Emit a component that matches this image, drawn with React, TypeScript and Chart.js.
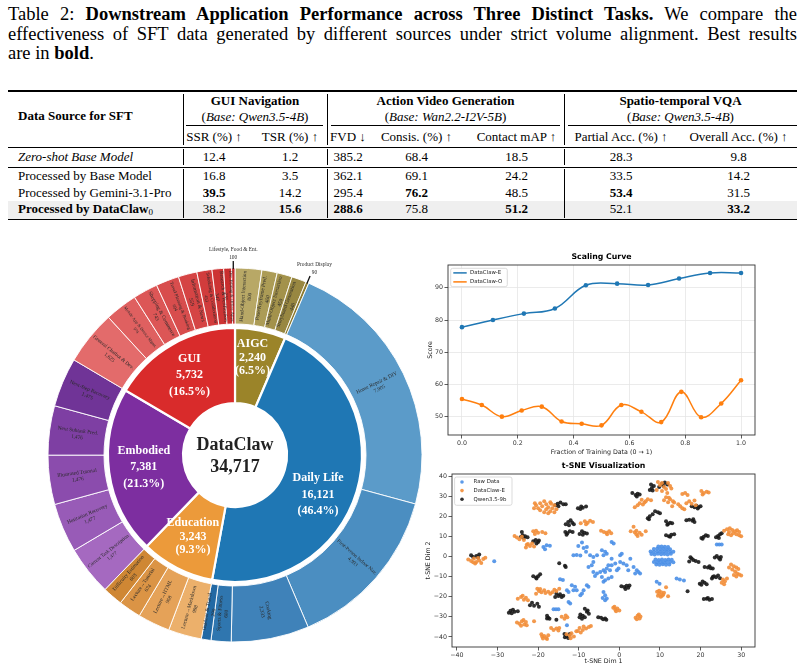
import React, { useEffect, useRef } from "react";
import { Chart, registerables } from "chart.js";

Chart.register(...registerables);

// ---------------- Table data ----------------
const TABLE_GROUPS = ["GUI Navigation", "Action Video Generation", "Spatio-temporal VQA"];
const TABLE_GROUP_BASES = ["Qwen3.5-4B", "Wan2.2-I2V-5B", "Qwen3.5-4B"];
const TABLE_METRICS = ["SSR (%) ↑", "TSR (%) ↑", "FVD ↓", "Consis. (%) ↑", "Contact mAP ↑", "Partial Acc. (%) ↑", "Overall Acc. (%) ↑"];
const TABLE_ROWS = ["Zero-shot Base Model", "Processed by Base Model", "Processed by Gemini-3.1-Pro", "Processed by DataClaw"];
const TABLE_VALUES = [
  ["12.4", "1.2", "385.2", "68.4", "18.5", "28.3", "9.8"],
  ["16.8", "3.5", "362.1", "69.1", "24.2", "33.5", "14.2"],
  ["39.5", "14.2", "295.4", "76.2", "48.5", "53.4", "31.5"],
  ["38.2", "15.6", "288.6", "75.8", "51.2", "52.1", "33.2"],
];
const TABLE_BEST = [[], [], [0, 3, 5], [1, 2, 4, 6]];

// ---------------- Sunburst data ----------------
const SUN_CATS = ["AIGC", "Daily Life", "Education", "Embodied", "GUI"];
const SUN_CAT_VALUES = [2240, 16121, 3243, 7381, 5732];
const SUN_CAT_COLORS = ["#9b8429", "#1f77b4", "#ec9a3a", "#7d2ea0", "#d92b2b"];
const SUN_SUB_LABELS = [
  "Hand-Object Interaction", "Pose/Keyframe Pred.", "Multi-Object Interaction", "Storyboard Generation", "Product Display",
  "Home Repair & DIY", "First-Person Indoor Nav.", "Cooking", "Sports & Fitness", "Outdoor & Travel",
  "Lecture→Markdown", "Lecture→HTML", "Lecture→Tutorial", "Difficulty Estimation",
  "Current Task Description", "Hesitation Recovery", "Illustrated Tutorial", "Next Subtask Pred.", "Next-Step Recovery",
  "General Chatbot & Dev.", "Mobile App & Device Mgmt.", "Shopping & Commerce", "Travel Planning & Booking",
  "Information & News", "Scheduling & Collaboration", "Research & Verification", "Doc Editing & Office Apps", "Lifestyle, Food & Ent.",
];
const SUN_SUB_VALUES = [
  800, 460, 450, 440, 90,
  7905, 4993, 2333, 600, 290,
  998, 968, 674, 603,
  1477, 1477, 1476, 1476, 1475,
  1625, 974, 743, 694, 559, 453, 347, 237, 100,
];
const SUN_SUB_COLORS = [
  "#b8a866", "#ac9c56", "#a3924b", "#988741", "#8b7a30",
  "#5b9bc9", "#4b8ec1", "#3f82b9", "#2f76af", "#2269a4",
  "#ecb06b", "#e5a258", "#db9445", "#cf8734",
  "#a569c0", "#985bb7", "#8b4cad", "#7e3fa3", "#703497",
  "#e36b6b", "#df6060", "#dc5656", "#d84d4d", "#d54444", "#d13c3c", "#cd3434", "#c92e2e", "#c42828",
];

// ---------------- Scaling curve data ----------------
const SCALE_X_E = [0, 0.111, 0.222, 0.333, 0.444, 0.556, 0.667, 0.778, 0.889, 1.0];
const SCALE_E = [77.8, 80.0, 82.0, 83.6, 90.8, 91.3, 90.9, 92.9, 94.6, 94.6];
const SCALE_X_O = [0, 0.071, 0.143, 0.214, 0.286, 0.357, 0.429, 0.5, 0.571, 0.643, 0.714, 0.786, 0.857, 0.929, 1.0];
const SCALE_O = [55.5, 53.6, 50.0, 51.9, 53.1, 48.5, 47.8, 47.3, 53.6, 51.5, 48.3, 57.7, 49.8, 54.1, 61.3];
const SCALE_X_TICKS = [0, 0.2, 0.4, 0.6, 0.8, 1.0];
const SCALE_Y_TICKS = [50, 60, 70, 80, 90];

// ---------------- t-SNE data ----------------
const TSNE_RAW = [
  [9.6, 4.9], [10.4, 5.0], [11.2, 4.8], [12.0, 4.7],
  [8.5, 3.7], [9.3, 3.8], [10.1, 3.6], [10.9, 3.7], [11.7, 3.5], [12.5, 3.6],
  [7.7, 2.5], [8.5, 2.3], [9.3, 2.5], [10.1, 2.4], [10.9, 2.3], [11.7, 2.5], [12.5, 2.3], [13.3, 2.4],
  [7.9, 1.2], [8.7, 1.0], [9.5, 1.3], [10.3, 1.1], [11.1, 1.2], [11.9, 1.0], [12.7, 1.3],
  [8.9, -1.5], [9.7, -1.7], [10.5, -1.5], [11.3, -1.7], [12.1, -1.5], [12.9, -1.6],
  [8.5, -2.8], [9.3, -2.9], [10.1, -2.7], [10.9, -2.9], [11.7, -2.8], [12.5, -2.7], [13.3, -2.9],
  [9.1, -4.0], [9.9, -4.1], [10.7, -3.9], [11.5, -4.1], [12.3, -4.0],
  [-18.7, 4.7], [-17.9, 5.6], [-17.1, 5.3], [-18.3, 3.6],
  [-10.1, 5.2], [-9.2, 6.9], [-8.8, 4.2], [-8.0, 4.7], [-8.2, 2.3],
  [-11.3, 0.6], [-10.5, 0.7], [-9.6, 0.5], [-7.2, 0.6], [-6.4, -0.2],
  [-7.6, -5.2], [-6.8, -4.4], [-6.4, -2.7], [-5.5, 0.6],
  [-4.3, 3.1], [-3.5, 2.3], [-3.9, 0.6], [-3.1, 1.4], [-1.9, 7.2], [-1.4, 6.4],
  [0.6, 1.4], [0.2, 0.6], [-1.9, -1.1], [-2.7, -4.4], [-1.9, -4.4], [-1.0, -3.5], [0.2, -2.7],
  [-6.4, -7.7], [-6.0, -9.7], [-5.5, -8.5], [-4.7, -7.7], [-3.9, -6.9], [-3.5, -7.7], [-3.1, -6.0], [-2.3, -6.9],
  [-4.3, -10.2], [-3.9, -12.6], [-3.5, -11.8], [-2.7, -11.0], [-1.9, -10.2],
  [-0.6, -6.9], [-0.2, -6.0], [1.0, -3.5], [1.8, -4.4], [2.2, -6.9], [2.7, -1.1],
  [3.5, -5.2], [4.3, -6.9], [4.7, -7.7], [5.1, -8.5], [3.9, -8.5],
  [-3.9, -17.6], [-3.5, -19.3], [-3.1, -20.9], [-4.1, -20.6], [-3.5, -21.8],
  [-8.0, -14.3], [-7.6, -15.1], [-8.8, -16.8], [-9.2, -18.4], [-9.6, -19.3],
  [-11.7, -14.3], [-10.9, -15.1], [-11.3, -16.8], [-10.5, -16.8], [-12.9, -16.8], [-12.5, -17.6],
  [-12.5, -22.6], [-12.1, -23.4], [-14.6, -11.3], [-13.9, -11.7],
  [-16.2, -26.2], [-15.6, -26.2], [-15.0, -26.2], [-12.9, -34.2], [-30.8, -2.4],
  [24.0, 5.9], [24.6, 5.9], [25.2, 5.9], [9.2, -12.6], [9.9, -13.5], [14.1, -11.0], [14.9, -11.5], [15.9, -12.0],
];
const TSNE_E = [
  [-37.2, -1.5], [-36.5, -2.2], [-35.8, -1.0], [-35.2, -2.8], [-34.5, -2.0], [-34.0, -3.3], [-33.5, -1.2], [-33.0, -0.6], [-36.0, -2.9], [-34.8, -0.8], [-35.5, -3.5],
  [-21.0, 24.0], [-20.5, 25.5], [-20.0, 24.0], [-19.5, 26.5], [-19.0, 25.0], [-18.5, 27.5], [-18.0, 26.0], [-18.0, 23.5], [-17.5, 24.5], [-17.0, 27.0],
  [-17.0, 22.5], [-16.5, 24.0], [-16.0, 25.5], [-16.0, 22.0], [-15.5, 23.5], [-19.5, 23.0], [-18.5, 22.0], [-17.5, 21.5], [-16.8, 26.2], [-20.8, 26.5],
  [-25.8, 10.2], [-25.2, 9.4], [-24.6, 8.6], [-24.0, 9.8], [-23.5, 8.2], [-22.5, 6.2], [-22.0, 5.2], [-21.5, 6.5], [-23.0, 4.5], [-22.8, 5.8], [-21.0, 5.0],
  [-21.2, 12.5], [-20.5, 12.8], [-20.0, 11.8], [-19.0, 12.2], [-18.2, 11.5], [-20.8, 11.2],
  [-9.5, 16.5], [-8.5, 17.5], [-7.8, 16.8], [-7.2, 17.8], [-6.5, 17.2], [-8.2, 16.0],
  [-4.5, 12.8], [-3.8, 12.2], [-3.2, 11.8], [-2.5, 12.5], [-2.0, 11.5], [-3.0, 11.0],
  [2.8, 12.5], [3.5, 14.8], [3.8, 12.0], [4.2, 11.0], [4.5, 10.2], [5.0, 11.8], [5.5, 10.8], [6.5, 12.5], [4.2, 12.8],
  [9.5, 37.0], [10.5, 36.5], [12.0, 36.5], [12.5, 35.0], [10.0, 35.5], [11.0, 34.5], [11.5, 33.5], [12.8, 33.8], [10.5, 32.5], [11.8, 31.5], [9.2, 33.0],
  [7.0, 28.5], [7.8, 28.0], [6.5, 27.5], [5.5, 28.2], [5.0, 26.5], [4.5, 25.5], [3.8, 24.5], [5.8, 25.8], [6.2, 26.8],
  [11.5, 29.5], [12.5, 28.5], [13.2, 27.5], [12.0, 27.0], [11.0, 28.0], [12.2, 29.2], [13.0, 25.0], [13.5, 26.8],
  [15.5, 31.0], [16.2, 31.5], [16.8, 30.5], [14.5, 26.0], [15.0, 25.0], [15.5, 24.0], [16.0, 23.5], [16.5, 26.5], [17.2, 27.5], [17.8, 26.2], [18.5, 27.8], [18.8, 25.5],
  [20.2, 32.5], [20.8, 31.5], [21.5, 32.2], [22.0, 31.8], [20.5, 30.8],
  [25.8, 12.8], [26.5, 13.5], [27.2, 14.0], [27.8, 13.2], [28.5, 12.5], [29.0, 13.0], [29.5, 12.2], [27.0, 12.2], [28.0, 11.5], [28.8, 11.0], [29.5, 10.5], [30.0, 10.0], [26.8, 11.0], [27.5, 10.5],
  [27.5, -4.0], [28.2, -4.8], [28.8, -5.5], [29.3, -6.2], [27.0, -5.5], [27.8, -6.5], [28.5, -7.5], [29.0, -8.5], [28.2, -9.2], [29.5, -9.0], [30.0, -9.5], [28.8, -10.0],
  [25.5, -11.5], [26.0, -12.3], [25.2, -13.0], [26.5, -11.0], [25.8, -13.8],
  [9.3, -17.5], [9.8, -18.5], [10.3, -17.8], [10.8, -19.0], [9.5, -19.5], [10.2, -20.0], [11.0, -18.0], [12.0, -19.8], [11.5, -15.3], [9.8, -17.0], [10.5, -19.5],
  [-20.2, -16.0], [-19.8, -17.2], [-19.2, -17.8], [-18.5, -16.8], [-18.2, -18.2], [-17.5, -17.5], [-17.0, -18.5], [-16.5, -17.8], [-16.0, -16.5], [-15.5, -17.2], [-20.5, -18.5], [-19.5, -16.2], [-14.8, -16.0],
  [-25.0, -21.0], [-24.2, -20.2], [-23.5, -21.5], [-23.0, -20.5], [-22.5, -21.8], [-23.8, -19.5],
  [-25.2, -32.8], [-24.6, -33.5], [-24.0, -32.2], [-23.4, -33.8], [-23.0, -32.6], [-24.2, -34.4], [-23.6, -31.6], [-22.8, -34.2], [-21.0, -32.2],
  [-19.2, -38.6], [-18.5, -39.5], [-18.0, -40.5], [-17.5, -39.2], [-18.8, -40.8], [-17.8, -41.0], [-19.0, -39.8],
  [-16.8, -35.5], [-16.2, -36.5], [-15.5, -35.8], [-15.0, -36.8], [-14.8, -35.5],
  [-14.2, -30.0], [-13.5, -31.0], [-12.8, -30.2], [-13.2, -29.4],
  [-13.0, -38.6], [-12.2, -39.4], [-11.8, -38.2], [-11.2, -39.8], [-12.0, -40.6], [-10.6, -37.2],
  [-10.2, -37.0], [-9.5, -37.8], [-9.0, -36.5], [-8.2, -35.8], [-7.5, -35.0], [-7.0, -34.5], [-8.8, -34.8], [-9.8, -35.5],
  [-1.5, -25.5], [-1.0, -26.5], [-0.5, -25.8], [0.0, -26.8], [-0.8, -27.2], [-1.2, -25.0],
  [4.0, -30.5], [4.5, -29.5], [5.0, -30.8], [4.3, -31.2], [4.8, -28.8], [5.2, -29.8],
];
const TSNE_Q = [
  [-36.5, 0.6], [-36.0, -0.2], [-35.2, 0.2], [-34.5, 1.0], [-34.8, -0.5],
  [-24.0, 12.2], [-23.8, 10.6], [-23.2, 10.0], [-22.6, 9.6], [-24.2, 9.8], [-23.5, 9.2],
  [-21.2, 7.6], [-20.6, 8.2], [-20.0, 7.2], [-20.4, 6.4], [-19.8, 8.0],
  [-15.8, 25.5], [-15.2, 26.2], [-14.5, 26.8], [-13.8, 26.0], [-13.2, 26.0], [-15.0, 25.0],
  [-10.2, 24.0], [-9.6, 23.6], [-9.0, 24.2], [-8.2, 24.8], [-9.4, 24.8],
  [-13.2, 16.0], [-12.6, 17.2], [-12.0, 18.0], [-11.6, 16.8], [-11.2, 16.0], [-12.4, 15.5],
  [-13.3, 12.2], [-12.8, 11.5], [-12.2, 12.5], [-11.5, 12.2], [-13.0, 10.8],
  [-9.8, 11.2], [-9.2, 12.5], [-8.6, 11.8], [-8.0, 11.4], [-9.0, 10.8],
  [-14.8, -3.4], [-13.4, -4.6], [-13.2, -5.2],
  [-21.2, -9.8], [-20.5, -10.5], [-20.0, -9.8], [-19.5, -8.8], [-20.4, -11.0],
  [-15.5, -18.5], [-15.0, -19.6], [-14.2, -20.2], [-14.6, -18.8], [-13.8, -19.5], [-15.8, -20.2],
  [-22.0, -24.2], [-21.5, -23.0], [-21.0, -24.5], [-20.2, -23.5], [-19.8, -25.0],
  [-27.2, -28.0], [-26.8, -27.0], [-26.2, -26.5], [-25.8, -27.5], [-25.0, -27.2], [-26.5, -28.2],
  [-17.8, -29.5], [-17.5, -30.5], [-17.2, -31.0], [-17.8, -30.8], [-15.5, -31.5],
  [-9.6, -28.8], [-9.0, -29.5], [-8.5, -30.2], [-9.2, -31.0], [-8.0, -27.5], [-7.5, -28.5], [-8.5, -26.0], [-7.8, -26.8], [-9.8, -30.2],
  [-5.2, -30.2], [-4.5, -30.5], [-4.0, -31.2], [-3.5, -30.8], [-3.2, -31.5],
  [-13.5, -38.5], [-13.0, -39.5], [-12.6, -40.5], [-12.2, -38.5], [-13.4, -40.2],
  [0.5, -14.8], [1.2, -15.2], [1.8, -14.6], [2.2, -15.5], [1.5, -16.2], [2.5, -14.4],
  [3.2, 31.5], [4.0, 30.5], [4.5, 31.2], [5.0, 30.8], [4.3, 29.8],
  [7.5, 33.0], [8.0, 34.0], [8.5, 35.0], [7.8, 35.8], [8.2, 32.8],
  [10.5, 36.2], [11.2, 36.8], [11.8, 35.8], [10.8, 35.2], [9.8, 34.5],
  [7.0, 19.0], [7.5, 20.0], [8.2, 21.0], [8.8, 22.5], [9.5, 22.0], [10.0, 21.5], [7.3, 18.5],
  [11.5, 17.5], [12.0, 16.2], [12.5, 16.8], [13.0, 16.5], [11.8, 15.8],
  [11.5, 10.5], [12.2, 10.0], [12.8, 10.8], [13.5, 11.0], [12.5, 9.8],
  [16.5, 18.0], [17.2, 18.3], [18.0, 17.8], [18.5, 17.2], [18.2, 18.5],
  [17.8, 25.0], [18.5, 24.5], [19.0, 25.2], [19.5, 24.5], [20.0, 25.0], [19.3, 23.8],
  [20.2, 9.2], [20.8, 9.8], [21.3, 10.5], [21.8, 10.2], [20.5, 8.8],
  [23.8, 9.5], [24.3, 10.2], [24.8, 11.0], [25.2, 11.5], [24.5, 9.2],
  [17.2, -2.5], [17.8, -1.0], [18.2, -1.8], [18.8, -2.2], [19.5, -2.8], [17.5, -0.4],
  [23.5, -0.5], [24.0, 0.2], [24.5, -0.8], [25.0, -0.3], [24.8, -1.5],
  [21.0, -5.2], [21.8, -5.5], [22.5, -5.8], [22.2, -4.8], [23.0, -6.0],
  [22.8, -11.0], [23.3, -9.8], [23.8, -10.3], [24.3, -9.5], [24.8, -10.8], [23.0, -10.2],
  [19.8, -13.5], [20.5, -12.5], [21.0, -13.0], [21.5, -13.8], [20.2, -14.0],
  [20.8, -21.2], [21.5, -21.0], [22.2, -21.5], [22.8, -21.2], [21.8, -20.6],
  [16.8, -17.3],
];
const TSNE_X_TICKS = [-40, -30, -20, -10, 0, 10, 20, 30];
const TSNE_Y_TICKS = [-40, -30, -20, -10, 0, 10, 20, 30, 40];

// ---------------- helpers ----------------
const SERIF = "'Liberation Serif', 'Times New Roman', Times, serif";
const SANS = "'DejaVu Sans', sans-serif";
const fmt = (v: number) => v.toLocaleString("en-US");

const sunLabelPlugin = {
  id: "sunLabels",
  afterDatasetsDraw(chart: any) {
    const ctx = chart.ctx as CanvasRenderingContext2D;
    const outer = chart.getDatasetMeta(0).data;
    const inner = chart.getDatasetMeta(2).data;
    const total = SUN_CAT_VALUES.reduce((a, b) => a + b, 0);
    ctx.save();
    ctx.textAlign = "center";
    ctx.textBaseline = "middle";
    outer.forEach((el: any, i: number) => {
      const p = el.getProps(["x", "y", "startAngle", "endAngle", "innerRadius", "outerRadius"], true);
      const mid = (p.startAngle + p.endAngle) / 2;
      const rm = (p.innerRadius + p.outerRadius) / 2;
      const arcLen = (p.endAngle - p.startAngle) * rm;
      const c = Math.cos(mid), s = Math.sin(mid);
      const name = SUN_SUB_LABELS[i];
      const val = fmt(SUN_SUB_VALUES[i]);
      ctx.fillStyle = "#2a2a2a";
      if (arcLen < 4.5) {
        const r0 = p.outerRadius - 1, r1 = p.outerRadius + 7;
        ctx.strokeStyle = "#111";
        ctx.lineWidth = 1.3;
        ctx.beginPath();
        ctx.moveTo(p.x + c * r0, p.y + s * r0);
        ctx.lineTo(p.x + c * r1, p.y + s * r1);
        ctx.stroke();
        const ax = p.x + c * (p.outerRadius + 10.5) + 8 * Math.max(c, 0);
        const ay = p.y + s * (p.outerRadius + 10.5);
        ctx.font = `5.4px ${SERIF}`;
        ctx.fillText(val, ax, ay);
        ctx.fillText(name, ax, ay - 8);
      } else {
        const rot = c >= 0 ? mid : mid + Math.PI;
        ctx.save();
        ctx.translate(p.x + c * rm, p.y + s * rm);
        ctx.rotate(rot);
        let fs = 5.3;
        ctx.font = `${fs}px ${SERIF}`;
        const w = ctx.measureText(name).width;
        const maxW = p.outerRadius - p.innerRadius - 5;
        if (w > maxW) {
          fs = (fs * maxW) / w;
          ctx.font = `${fs}px ${SERIF}`;
        }
        ctx.fillText(name, 0, -fs * 0.62);
        ctx.fillText(val, 0, fs * 0.62);
        ctx.restore();
      }
    });
    const nudge: Record<string, [number, number]> = { "Daily Life": [-5, 13], AIGC: [-1, -7] };
    inner.forEach((el: any, i: number) => {
      const p = el.getProps(["x", "y", "startAngle", "endAngle"], true);
      const mid = (p.startAngle + p.endAngle) / 2;
      const r = 92;
      const nd = nudge[SUN_CATS[i]] || [0, 0];
      const x = p.x + Math.cos(mid) * r + nd[0];
      const y = p.y + Math.sin(mid) * r + nd[1];
      const v = SUN_CAT_VALUES[i];
      const lh = v > 5000 ? 16.5 : 13.5;
      ctx.font = `bold 12px ${SERIF}`;
      ctx.fillStyle = "#ffffff";
      ctx.fillText(SUN_CATS[i], x, y - lh);
      ctx.fillText(fmt(v), x, y);
      ctx.fillText(`(${((v / total) * 100).toFixed(1)}%)`, x, y + lh);
    });
    const p0 = inner[0].getProps(["x", "y"], true);
    ctx.fillStyle = "#222";
    ctx.font = `bold 18px ${SERIF}`;
    ctx.fillText("DataClaw", p0.x, p0.y - 10);
    ctx.fillText(fmt(total), p0.x, p0.y + 12);
    ctx.restore();
  },
};

const plotTitlePlugin = {
  id: "plotTitle",
  afterDraw(chart: any, _a: any, opts: any) {
    if (!opts || !opts.text) return;
    const { ctx, chartArea } = chart;
    ctx.save();
    ctx.font = `bold 7.8px ${SANS}`;
    ctx.fillStyle = "#000";
    ctx.textAlign = "center";
    ctx.textBaseline = "middle";
    ctx.fillText(opts.text, (chartArea.left + chartArea.right) / 2, chartArea.top - 7.7);
    ctx.restore();
  },
};

const framePlugin = {
  id: "frame",
  afterDraw(chart: any) {
    const { ctx, chartArea } = chart;
    ctx.save();
    ctx.strokeStyle = "#333";
    ctx.lineWidth = 0.9;
    ctx.strokeRect(chartArea.left, chartArea.top, chartArea.right - chartArea.left, chartArea.bottom - chartArea.top);
    ctx.restore();
  },
};

const boxLegendPlugin = {
  id: "boxLegend",
  afterDraw(chart: any, _a: any, opts: any) {
    if (!opts || !opts.w) return;
    const { ctx, chartArea } = chart;
    const x = chartArea.left + opts.dx, y = chartArea.top + opts.dy;
    const w = opts.w, h = opts.h, r = 2;
    ctx.save();
    ctx.beginPath();
    ctx.moveTo(x + r, y);
    ctx.arcTo(x + w, y, x + w, y + h, r);
    ctx.arcTo(x + w, y + h, x, y + h, r);
    ctx.arcTo(x, y + h, x, y, r);
    ctx.arcTo(x, y, x + w, y, r);
    ctx.closePath();
    ctx.fillStyle = "rgba(255,255,255,0.85)";
    ctx.fill();
    ctx.strokeStyle = "#d2d2d2";
    ctx.lineWidth = 0.8;
    ctx.stroke();
    ctx.font = `5.4px ${SANS}`;
    ctx.textBaseline = "middle";
    ctx.textAlign = "left";
    chart.data.datasets.forEach((ds: any, i: number) => {
      const cy = y + opts.first + i * opts.step;
      if (opts.kind === "line") {
        ctx.strokeStyle = ds.borderColor;
        ctx.lineWidth = 1.5;
        ctx.beginPath();
        ctx.moveTo(x + 2.6, cy);
        ctx.lineTo(x + 16, cy);
        ctx.stroke();
      } else {
        ctx.fillStyle = ds.backgroundColor;
        ctx.beginPath();
        ctx.arc(x + 7.4, cy, 1.8, 0, Math.PI * 2);
        ctx.fill();
      }
      ctx.fillStyle = "#222";
      ctx.fillText(ds.label, x + opts.textX, cy);
    });
    ctx.restore();
  },
};

const tickFont = { family: SANS, size: 6.3 };

function makeSunburst() {
  return {
    type: "doughnut",
    data: {
      labels: SUN_SUB_LABELS,
      datasets: [
        { data: SUN_SUB_VALUES, backgroundColor: SUN_SUB_COLORS, borderColor: "#ffffff", borderWidth: 0.9, hoverBorderWidth: 0.9, weight: 56 },
        { data: [1], backgroundColor: "rgba(0,0,0,0)", borderWidth: 0, hoverBorderWidth: 0, weight: 4 },
        { data: SUN_CAT_VALUES, backgroundColor: SUN_CAT_COLORS, borderColor: "#ffffff", borderWidth: 2.2, hoverBorderWidth: 2.2, weight: 75 },
      ],
    },
    options: {
      responsive: false,
      animation: false,
      events: [],
      radius: 187,
      cutout: "27.8%",
      layout: { padding: 0 },
      plugins: { legend: { display: false }, tooltip: { enabled: false } },
    },
    plugins: [sunLabelPlugin],
  };
}

function axis(min: number, max: number, ticks: number[], cb: (v: number) => string, size: number, isX: boolean, title: string, titlePad: any, grid: boolean) {
  return {
    type: "linear",
    min,
    max,
    afterBuildTicks: (s: any) => {
      s.ticks = ticks.map((v) => ({ value: v }));
    },
    afterFit: (s: any) => {
      if (isX) s.height = size;
      else s.width = size;
    },
    ticks: { callback: (v: any) => cb(Number(v)), font: tickFont, color: "#333", padding: 1.5, maxRotation: 0, autoSkip: false },
    grid: { drawOnChartArea: grid, color: "#e6e6e6", lineWidth: 0.8, tickColor: "#333", tickLength: 3.5, tickWidth: 0.8 },
    border: { display: false },
    title: { display: true, text: title, font: tickFont, color: "#222", padding: titlePad },
  };
}

function makeScaling() {
  return {
    type: "line",
    data: {
      datasets: [
        {
          label: "DataClaw-E",
          data: SCALE_X_E.map((x, i) => ({ x, y: SCALE_E[i] })),
          borderColor: "#1f77b4",
          backgroundColor: "#1f77b4",
          pointRadius: 2.3,
          pointBorderWidth: 0,
          borderWidth: 1.5,
          tension: 0.4,
        },
        {
          label: "DataClaw-O",
          data: SCALE_X_O.map((x, i) => ({ x, y: SCALE_O[i] })),
          borderColor: "#ff7f0e",
          backgroundColor: "#ff7f0e",
          pointRadius: 2.3,
          pointBorderWidth: 0,
          borderWidth: 1.5,
          tension: 0.4,
        },
      ],
    },
    options: {
      responsive: false,
      animation: false,
      events: [],
      layout: { padding: { left: 0, right: 50, top: 17, bottom: 0 } },
      scales: {
        x: axis(-0.05, 1.05, SCALE_X_TICKS, (v) => v.toFixed(1), 25, true, "Fraction of Training Data (0 → 1)", { top: 0, bottom: 4.2 }, true),
        y: axis(44.3, 97.1, SCALE_Y_TICKS, (v) => String(v), 28, false, "Score", { top: 7, bottom: 0 }, true),
      },
      plugins: {
        legend: { display: false },
        tooltip: { enabled: false },
        plotTitle: { text: "Scaling Curve" },
        boxLegend: { dx: 2.7, dy: 3.3, w: 56.6, h: 18.4, first: 4.6, step: 9, textX: 19.3, kind: "line" },
      },
    },
    plugins: [plotTitlePlugin, boxLegendPlugin, framePlugin],
  };
}

function makeTsne() {
  const mk = (label: string, pts: number[][], color: string) => ({
    label,
    data: pts.map(([x, y]) => ({ x, y })),
    backgroundColor: color,
    borderColor: color,
    pointRadius: 2,
    pointBorderWidth: 0,
  });
  return {
    type: "scatter",
    data: {
      datasets: [
        mk("Raw Data", TSNE_RAW, "rgba(74,143,231,0.9)"),
        mk("DataClaw-E", TSNE_E, "rgba(242,142,58,0.9)"),
        mk("Qwen3.5-9b", TSNE_Q, "rgba(25,25,25,0.9)"),
      ],
    },
    options: {
      responsive: false,
      animation: false,
      events: [],
      layout: { padding: { left: 0, right: 50, top: 14, bottom: 0 } },
      scales: {
        x: axis(-41.2, 33.4, TSNE_X_TICKS, (v) => (v < 0 ? "−" + Math.abs(v) : String(v)), 23, true, "t-SNE Dim 1", { top: 0, bottom: 4.7 }, false),
        y: axis(-45, 41, TSNE_Y_TICKS, (v) => (v < 0 ? "−" + Math.abs(v) : String(v)), 32, false, "t-SNE Dim 2", { top: 5, bottom: 0 }, false),
      },
      plugins: {
        legend: { display: false },
        tooltip: { enabled: false },
        plotTitle: { text: "t-SNE Visualization" },
        boxLegend: { dx: 2.6, dy: 3, w: 57.4, h: 28.3, first: 5, step: 8.6, textX: 19, kind: "dot" },
      },
    },
    plugins: [plotTitlePlugin, boxLegendPlugin, framePlugin],
  };
}

function ChartBox({ left, top, width, height, make }: { left: number; top: number; width: number; height: number; make: () => any }) {
  const ref = useRef<HTMLCanvasElement>(null);
  useEffect(() => {
    const chart = new Chart(ref.current as HTMLCanvasElement, make());
    return () => chart.destroy();
  }, []);
  return (
    <div style={{ position: "absolute", left, top, width, height }}>
      <canvas ref={ref} width={width} height={height} style={{ width, height, display: "block" }} />
    </div>
  );
}

// ---------------- Table ----------------
function Txt({ x, y, children, align = "center", style = {} }: any) {
  const w = 260;
  const left = align === "center" ? x - w / 2 : x;
  return (
    <div style={{ position: "absolute", left, top: y - 8, width: w, height: 16, lineHeight: "16px", textAlign: align, whiteSpace: "nowrap", ...style }}>
      {children}
    </div>
  );
}
function Rule({ y, x1, x2, h }: { y: number; x1: number; x2: number; h: number }) {
  return <div style={{ position: "absolute", left: x1, top: y - h / 2, width: x2 - x1, height: h, background: "#000" }} />;
}
function VBar({ x, y1, y2 }: { x: number; y1: number; y2: number }) {
  return <div style={{ position: "absolute", left: x - 0.4, top: y1, width: 0.8, height: y2 - y1, background: "#000" }} />;
}

function Table() {
  const colX = [214, 290, 348, 416.5, 516.5, 621, 738.5];
  const groupX = [255, 445.5, 680.5];
  const vbars = [183, 327, 564];
  const cmid = [[186, 323], [331, 560], [568, 797]];
  const rowY = [157, 176, 192.5, 209];
  return (
    <div style={{ position: "absolute", left: 0, top: 0, width: 805, height: 225, fontFamily: SERIF, fontSize: 13, color: "#000" }}>
      <div style={{ position: "absolute", left: 8, top: 200.5, width: 789, height: 18, background: "#efefef" }} />
      <Rule y={91} x1={8} x2={797} h={1.3} />
      {cmid.map(([a, b], i) => (
        <Rule key={"c" + i} y={125.5} x1={a} x2={b} h={0.7} />
      ))}
      <Rule y={147} x1={8} x2={797} h={0.8} />
      <Rule y={167} x1={8} x2={797} h={0.8} />
      <Rule y={219.5} x1={8} x2={797} h={1.3} />
      {vbars.map((x) => (
        <React.Fragment key={"v" + x}>
          <VBar x={x} y1={94} y2={145} />
          <VBar x={x} y1={149} y2={165.2} />
          <VBar x={x} y1={169} y2={217.8} />
        </React.Fragment>
      ))}
      <Txt x={18} y={116} align="left" style={{ fontWeight: "bold" }}>Data Source for SFT</Txt>
      {TABLE_GROUPS.map((g, i) => (
        <React.Fragment key={g}>
          <Txt x={groupX[i]} y={101} style={{ fontWeight: "bold" }}>{g}</Txt>
          <Txt x={groupX[i]} y={117}>
            (<i>Base: {TABLE_GROUP_BASES[i]}</i>)
          </Txt>
        </React.Fragment>
      ))}
      {TABLE_METRICS.map((m, i) => (
        <Txt key={m} x={colX[i]} y={137}>{m}</Txt>
      ))}
      {TABLE_ROWS.map((r, ri) => (
        <React.Fragment key={r}>
          <Txt x={18} y={rowY[ri]} align="left" style={{ fontStyle: ri === 0 ? "italic" : "normal", fontWeight: ri === 3 ? "bold" : "normal" }}>
            {r}
            {ri === 3 ? <sub style={{ fontSize: 9, fontWeight: "normal", verticalAlign: "-2px" }}>0</sub> : null}
          </Txt>
          {TABLE_VALUES[ri].map((v, ci) => (
            <Txt key={ci} x={colX[ci]} y={rowY[ri]} style={{ fontWeight: TABLE_BEST[ri].includes(ci) ? "bold" : "normal" }}>
              {v}
            </Txt>
          ))}
        </React.Fragment>
      ))}
    </div>
  );
}

function Caption() {
  const line: React.CSSProperties = { textAlign: "justify", textAlignLast: "justify", whiteSpace: "nowrap", height: 19.5 };
  return (
    <div style={{ position: "absolute", left: 8, top: 5, width: 789, fontFamily: SERIF, fontSize: 18.5, lineHeight: "19.5px", color: "#000" }}>
      <div style={line}>
        Table 2: <b>Downstream Application Performance across Three Distinct Tasks.</b> We compare the
      </div>
      <div style={line}>effectiveness of SFT data generated by different sources under strict volume alignment. Best results</div>
      <div style={{ height: 19.5, whiteSpace: "nowrap" }}>
        are in <b>bold</b>.
      </div>
    </div>
  );
}

export default function App() {
  return (
    <div style={{ position: "absolute", left: 0, top: 0, width: 805, height: 670, background: "#fff", overflow: "hidden" }}>
      <Caption />
      <Table />
      <ChartBox left={25} top={245} width={420} height={420} make={makeSunburst} />
      <ChartBox left={420} top={248} width={385} height={212} make={makeScaling} />
      <ChartBox left={420} top={460} width={385} height={210} make={makeTsne} />
    </div>
  );
}
